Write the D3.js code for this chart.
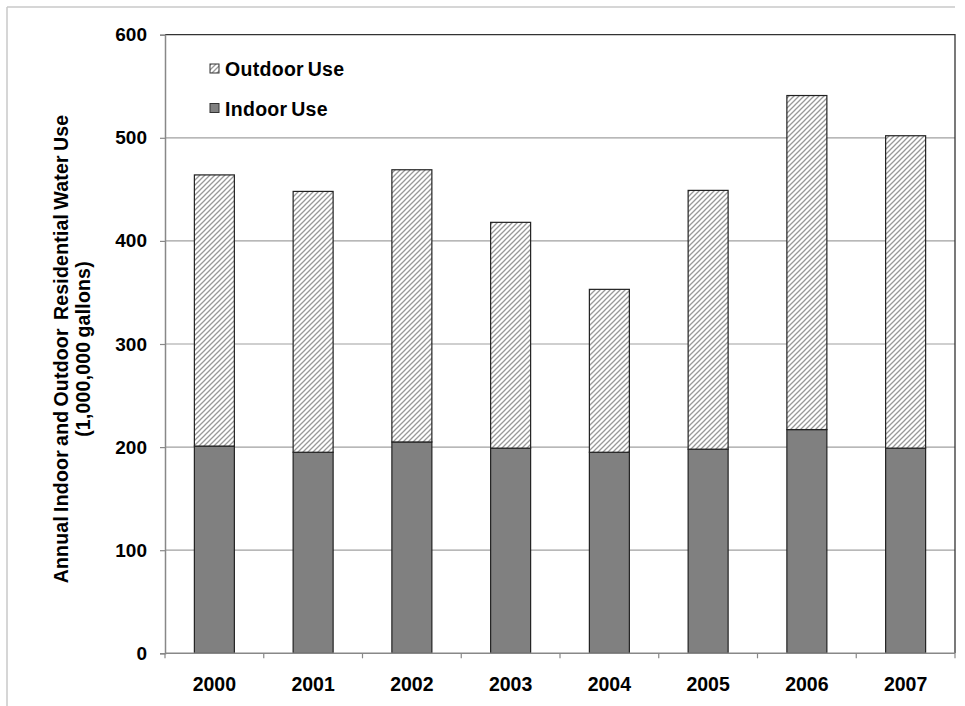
<!DOCTYPE html>
<html>
<head>
<meta charset="utf-8">
<script src="https://cdn.jsdelivr.net/npm/d3@7/dist/d3.min.js"></script>
<style>
  html, body { margin: 0; padding: 0; background: #fff; }
  svg { display: block; font-family: "Liberation Sans", Arial, sans-serif; }
</style>
</head>
<body>
<svg id="chart" width="965" height="706"></svg>
<script>
// Annual residential water use, millions of gallons
const years = ["2000", "2001", "2002", "2003", "2004", "2005", "2006", "2007"];
const indoorUse = [201, 195, 205, 199, 195, 198, 217, 199];
const totalUse = [464, 448, 469, 418, 353, 449, 541, 502];
const outdoorUse = totalUse.map((t, i) => t - indoorUse[i]);
const yTicks = [0, 100, 200, 300, 400, 500, 600];
const seriesNames = ["Outdoor Use", "Indoor Use"];

const svg = d3.select("#chart");
const margin = { left: 165, right: 955, top: 34.7, bottom: 653.3 };

// hatched fill for the outdoor portion
const defs = svg.append("defs");
const pat = defs.append("pattern")
  .attr("id", "hatch")
  .attr("patternUnits", "userSpaceOnUse")
  .attr("width", 5).attr("height", 5);
pat.append("rect").attr("width", 5).attr("height", 5).attr("fill", "#fff");
pat.append("path")
  .attr("d", "M-1,6 L6,-1 M-1,1 L1,-1 M4,6 L6,4")
  .attr("stroke", "#999").attr("stroke-width", 1.3);

// outer frame
svg.append("line").attr("x1", 7).attr("x2", 955).attr("y1", 7).attr("y2", 7)
  .attr("stroke", "#c8c8c8").attr("stroke-width", 1.5);
svg.append("line").attr("x1", 7).attr("x2", 7).attr("y1", 7).attr("y2", 706)
  .attr("stroke", "#c8c8c8").attr("stroke-width", 1.5);

const x = d3.scaleBand().domain(years).range([margin.left, margin.right]).paddingInner(0.595).paddingOuter(0.2975);
const y = d3.scaleLinear().domain([0, 600]).range([margin.bottom, margin.top]);

// gridlines
svg.append("g").selectAll("line").data(yTicks.filter(t => t > 0 && t < 600)).join("line")
  .attr("x1", margin.left).attr("x2", margin.right)
  .attr("y1", d => y(d)).attr("y2", d => y(d))
  .attr("stroke", "#a0a0a0").attr("stroke-width", 1.2);

// plot frame: top and right edges
svg.append("path")
  .attr("d", `M${margin.left},${y(600)} H${margin.right} V${margin.bottom}`)
  .attr("fill", "none").attr("stroke", "#333").attr("stroke-width", 1.3);

// bars
const bars = svg.append("g");
bars.selectAll("rect.indoor").data(years).join("rect")
  .attr("class", "indoor")
  .attr("x", d => x(d)).attr("width", x.bandwidth())
  .attr("y", (d, i) => y(indoorUse[i]))
  .attr("height", (d, i) => y(0) - y(indoorUse[i]))
  .attr("fill", "#808080").attr("stroke", "#222").attr("stroke-width", 1.2);
bars.selectAll("rect.outdoor").data(years).join("rect")
  .attr("class", "outdoor")
  .attr("x", d => x(d)).attr("width", x.bandwidth())
  .attr("y", (d, i) => y(indoorUse[i] + outdoorUse[i]))
  .attr("height", (d, i) => y(indoorUse[i]) - y(indoorUse[i] + outdoorUse[i]))
  .attr("fill", "url(#hatch)").attr("stroke", "#222").attr("stroke-width", 1.2);

// y axis
const yAxis = svg.append("g").attr("transform", `translate(${margin.left},0)`)
  .call(d3.axisLeft(y).tickValues(yTicks).tickSize(5).tickPadding(13));
yAxis.select(".domain").attr("stroke", "#888").attr("stroke-width", 1.5);
yAxis.selectAll(".tick line").attr("stroke", "#888").attr("stroke-width", 1.2);
yAxis.selectAll(".tick text")
  .attr("font-size", 19).attr("font-weight", "bold").attr("fill", "#000")
  .attr("font-family", "Liberation Sans, Arial, sans-serif");

// x axis
const xPos = d3.scaleLinear().domain([0, years.length]).range([margin.left, margin.right]);
const xAxis = svg.append("g").attr("transform", `translate(0,${margin.bottom})`);
xAxis.append("line").attr("x1", margin.left).attr("x2", margin.right)
  .attr("stroke", "#888").attr("stroke-width", 1.5);
xAxis.selectAll("line.tick").data(d3.range(years.length + 1)).join("line")
  .attr("class", "tick")
  .attr("x1", d => xPos(d)).attr("x2", d => xPos(d))
  .attr("y1", 0).attr("y2", 5)
  .attr("stroke", "#888").attr("stroke-width", 1.2);
xAxis.selectAll("text").data(years).join("text")
  .attr("x", d => x(d) + x.bandwidth() / 2).attr("y", 37.5)
  .attr("text-anchor", "middle")
  .attr("font-size", 19.5).attr("font-weight", "bold").text(d => d);

// y axis title
const title = svg.append("text")
  .attr("transform", `translate(68,${(margin.top + margin.bottom) / 2 + 5}) rotate(-90)`)
  .attr("text-anchor", "middle")
  .attr("font-size", 19.5).attr("font-weight", "bold")
  .attr("letter-spacing", 0.2)
  .attr("word-spacing", -1.5);
title.append("tspan").attr("x", 0).attr("dy", 0)
  .attr("xml:space", "preserve")
  .text("Annual Indoor and Outdoor  Residential Water Use");
title.append("tspan").attr("x", 0).attr("dy", 22).text("(1,000,000 gallons)");

// legend
const legend = svg.append("g");
const legendFills = ["url(#hatch)", "#808080"];
seriesNames.forEach((name, i) => {
  const ly = 76 + i * 39.5;
  legend.append("rect")
    .attr("x", 210).attr("y", ly - 12).attr("width", 9).attr("height", 9)
    .attr("fill", legendFills[i]).attr("stroke", "#333").attr("stroke-width", 1);
  legend.append("text")
    .attr("x", 225).attr("y", ly)
    .attr("font-size", 19.5).attr("font-weight", "bold")
    .attr("letter-spacing", 0.3).attr("word-spacing", -2)
    .text(name);
});
</script>
</body>
</html>
